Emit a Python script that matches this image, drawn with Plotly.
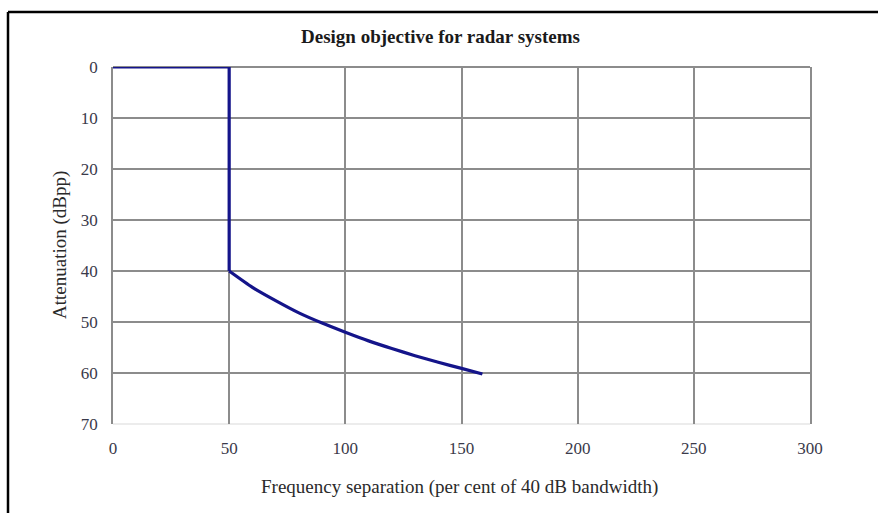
import plotly.graph_objects as go

# Data
freq_sep = [0, 50, 50, 60, 70, 80, 90, 100, 110, 120, 130, 140, 150, 159]
attenuation = [0, 0, 40, 43.2, 45.8, 48.2, 50.2, 52.0, 53.7, 55.2, 56.6, 57.9, 59.1, 60.2]
x_ticks = [0, 50, 100, 150, 200, 250, 300]
y_ticks = [0, 10, 20, 30, 40, 50, 60, 70]

W, H = 878, 513
L, R, T, B = 113, 810, 67, 424

serif = "Liberation Serif, Times New Roman, serif"
tick_col = "#3a3a4a"
grid_col = "#8c8c8c"
line_col = "#14148a"

fig = go.Figure()
# step part (straight segments) and the curved roll-off part
fig.add_trace(go.Scatter(x=freq_sep[:3], y=attenuation[:3], mode="lines",
                         line=dict(color=line_col, width=3.2),
                         showlegend=False, cliponaxis=False))
fig.add_trace(go.Scatter(x=freq_sep[2:], y=attenuation[2:], mode="lines",
                         line=dict(color=line_col, width=3.2, shape="spline", smoothing=0.6),
                         showlegend=False, cliponaxis=False))

def px_x(p):
    return (p - L) / (R - L)

def px_y(p):
    return (B - p) / (B - T)

fig.update_layout(
    width=W, height=H,
    margin=dict(l=L, r=W - R, t=T, b=H - B),
    paper_bgcolor="white", plot_bgcolor="white",
    showlegend=False,
    xaxis=dict(range=[0, 300], tickvals=x_ticks, ticktext=[str(v) for v in x_ticks],
               showgrid=True, gridcolor=grid_col, gridwidth=1.6, zeroline=False,
               showline=False, ticks="", ticklabelstandoff=12,
               tickfont=dict(family=serif, size=17, color=tick_col)),
    yaxis=dict(range=[70, 0], tickvals=y_ticks, ticktext=[str(v) for v in y_ticks],
               showgrid=True, gridcolor=grid_col, gridwidth=1.6, zeroline=False,
               showline=True, mirror=True, linecolor=grid_col, linewidth=1.6,
               ticks="", ticklabelstandoff=10,
               tickfont=dict(family=serif, size=17, color=tick_col)),
    shapes=[
        dict(type="line", xref="paper", yref="paper", x0=px_x(8), x1=px_x(878),
             y0=px_y(12), y1=px_y(12), line=dict(color="black", width=2.5)),
        dict(type="line", xref="paper", yref="paper", x0=px_x(8), x1=px_x(8),
             y0=px_y(12), y1=px_y(513), line=dict(color="black", width=2.5)),
        dict(type="line", xref="x", yref="paper", x0=0, x1=300, y0=0, y1=0,
             line=dict(color="#e6e6e6", width=1.5), layer="below"),
        dict(type="line", xref="x", yref="paper", x0=0, x1=300, y0=1, y1=1,
             line=dict(color=grid_col, width=1.8), layer="below"),
    ],
    annotations=[
        dict(text="<b>Design objective for radar systems</b>", xref="paper", yref="paper",
             x=px_x(440), y=px_y(36), showarrow=False, xanchor="center", yanchor="middle",
             font=dict(family=serif, size=19, color="#1a1a1a")),
        dict(text="Frequency separation (per cent of 40 dB bandwidth)", xref="paper", yref="paper",
             x=px_x(459), y=px_y(487), showarrow=False, xanchor="center", yanchor="middle",
             font=dict(family=serif, size=19, color="#2a2a2a")),
        dict(text="Attenuation (dBpp)", xref="paper", yref="paper", textangle=-90,
             x=px_x(60), y=px_y(245), showarrow=False, xanchor="center", yanchor="middle",
             font=dict(family=serif, size=19, color="#2a2a2a")),
    ],
)

fig.write_html("out.html")
